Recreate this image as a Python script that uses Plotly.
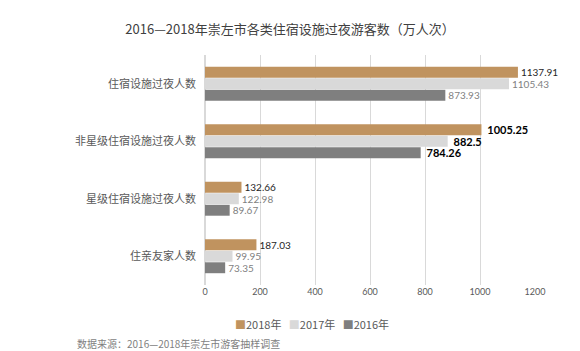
import plotly.graph_objects as go

categories = ["住宿设施过夜人数", "非星级住宿设施过夜人数", "星级住宿设施过夜人数", "住亲友家人数"]
v2018 = [1137.91, 1005.25, 132.66, 187.03]
v2017 = [1105.43, 882.5, 122.98, 99.95]
v2016 = [873.93, 784.26, 89.67, 73.35]
series_names = ["2018年", "2017年", "2016年"]
x_ticks = [0, 200, 400, 600, 800, 1000, 1200]

colors = {"2018年": "#C0935F", "2017年": "#D9D9D9", "2016年": "#7F7F7F"}
label_colors = {"2018年": "#262626", "2017年": "#7F7F7F", "2016年": "#7F7F7F"}
font_cjk = "Noto Sans CJK SC"
font_num = "Lato, Carlito, sans-serif"
highlight = "非星级住宿设施过夜人数"

fig = go.Figure()
for name, vals in [("2016年", v2016), ("2017年", v2017), ("2018年", v2018)]:
    sizes = [11 if c == highlight else 10 for c in categories]
    tcolors = ["#000000" if c == highlight else label_colors[name] for c in categories]
    texts = [f" <b>{v:g}</b>" if c == highlight else f"{v:g}" for c, v in zip(categories, vals)]
    fig.add_trace(go.Bar(
        y=categories, x=vals, name=name, orientation="h",
        marker=dict(color=colors[name], line=dict(width=0)),
        text=texts, textposition="outside", cliponaxis=False, constraintext="none",
        textfont=dict(size=sizes, color=tcolors, family=font_num),
        hoverinfo="skip", showlegend=False,
    ))

fig.update_layout(
    width=580, height=351,
    margin=dict(l=205, r=45, t=55, b=66),
    paper_bgcolor="white", plot_bgcolor="white",
    barmode="group", bargap=0.4, bargroupgap=0.05,
    title=dict(text="2016—2018年崇左市各类住宿设施过夜游客数（万人次）",
               x=0.5, xanchor="center", y=0.915, yanchor="middle",
               font=dict(size=13, color="#404040", family=font_cjk)),
    xaxis=dict(range=[0, 1200], tickvals=x_ticks, showgrid=True, gridcolor="#D9D9D9",
               gridwidth=1, zeroline=True, zerolinecolor="#D9D9D9", showline=False,
               tickfont=dict(size=9, color="#595959", family=font_num),
               ticks="", fixedrange=True),
    yaxis=dict(categoryorder="array", categoryarray=categories[::-1],
               tickfont=dict(size=11, color="#595959", family=font_cjk),
               ticks="", ticklabelstandoff=8, showline=False, showgrid=False),
    showlegend=False,
)

legend_text = "&nbsp;&nbsp;&nbsp;".join(
    f"<span style='color:{colors[n]}'>■</span>{n}" for n in series_names
)
fig.add_annotation(text=legend_text, xref="paper", yref="paper",
                   x=0.325, y=-0.17, xanchor="center", yanchor="middle", showarrow=False,
                   font=dict(size=11, color="#595959", family=font_cjk))
fig.add_annotation(text="数据来源：2016—2018年崇左市游客抽样调查", xref="paper", yref="paper",
                   x=-0.395, y=-0.255, xanchor="left", yanchor="middle", showarrow=False,
                   font=dict(size=10, color="#7F7F7F", family=font_cjk))

fig.write_html("out.html")
